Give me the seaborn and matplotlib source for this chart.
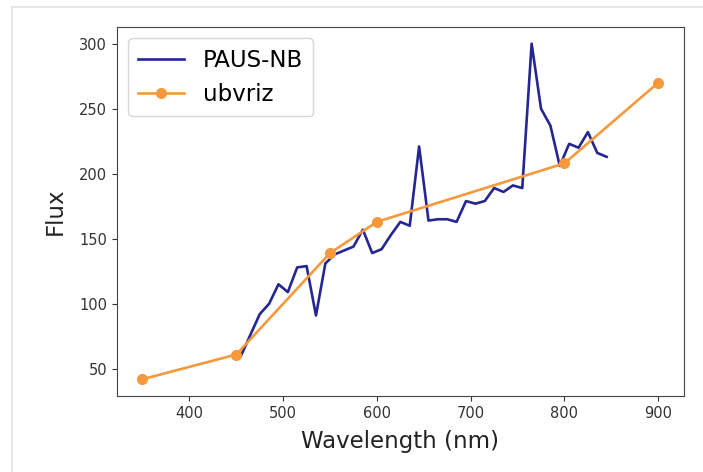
import numpy as np
import pandas as pd
import matplotlib
matplotlib.use("Agg")
import matplotlib.pyplot as plt
from matplotlib.lines import Line2D
import seaborn as sns

# PAUS narrow-band photometry
nb_wavelength = [455, 465, 475, 485, 495, 505, 515, 525, 535, 545,
                 555, 565, 575, 585, 595, 605, 615, 625, 635, 645,
                 655, 665, 675, 685, 695, 705, 715, 725, 735, 745,
                 755, 765, 775, 785, 795, 805, 815, 825, 835, 845]
nb_flux = [60, 76, 92, 100, 115, 109, 128, 129, 91, 131,
           138, 141, 144, 157, 139, 142, 153, 163, 160, 221,
           164, 165, 165, 163, 179, 177, 179, 189, 186, 191,
           189, 300, 250, 237, 206, 223, 220, 232, 216, 213]

# broad-band ubvriz photometry
bb_wavelength = [350, 450, 550, 600, 800, 900]
bb_flux = [42, 61, 139, 163, 208, 270]

nb = pd.DataFrame({"wavelength": nb_wavelength, "flux": nb_flux})
bb = pd.DataFrame({"wavelength": bb_wavelength, "flux": bb_flux})

fig, ax = plt.subplots(figsize=(7.03, 4.72), dpi=100)
fig.subplots_adjust(left=0.166, right=0.973, top=0.943, bottom=0.161)

sns.lineplot(data=nb, x="wavelength", y="flux", ax=ax, color="navy",
             alpha=0.85, linewidth=1.9, label="PAUS-NB")
sns.lineplot(data=bb, x="wavelength", y="flux", ax=ax, color="#f5993c",
             linewidth=1.9, marker="o", markersize=8, markeredgewidth=0,
             label="ubvriz")

ax.set_xlabel("Wavelength (nm)", fontsize=16.5, labelpad=7, color="#222222")
ax.set_ylabel("Flux", fontsize=16.5, labelpad=9, color="#222222")
ax.tick_params(labelsize=10.5, colors="#333333")
for s in ax.spines.values():
    s.set_color("#444444")
ax.set_xticks([400, 500, 600, 700, 800, 900])
ax.set_yticks([50, 100, 150, 200, 250, 300])
ax.legend(loc="upper left", fontsize=16.5, handlelength=2.0, borderpad=0.45)

# faint screenshot frame
fig.add_artist(Line2D([12 / 703, 1], [1 - 7 / 472, 1 - 7 / 472], color="#e2e2e2", lw=1.2))
fig.add_artist(Line2D([12 / 703, 12 / 703], [0, 1 - 7 / 472], color="#e2e2e2", lw=1.2))

fig.savefig("out.png", dpi=100)
